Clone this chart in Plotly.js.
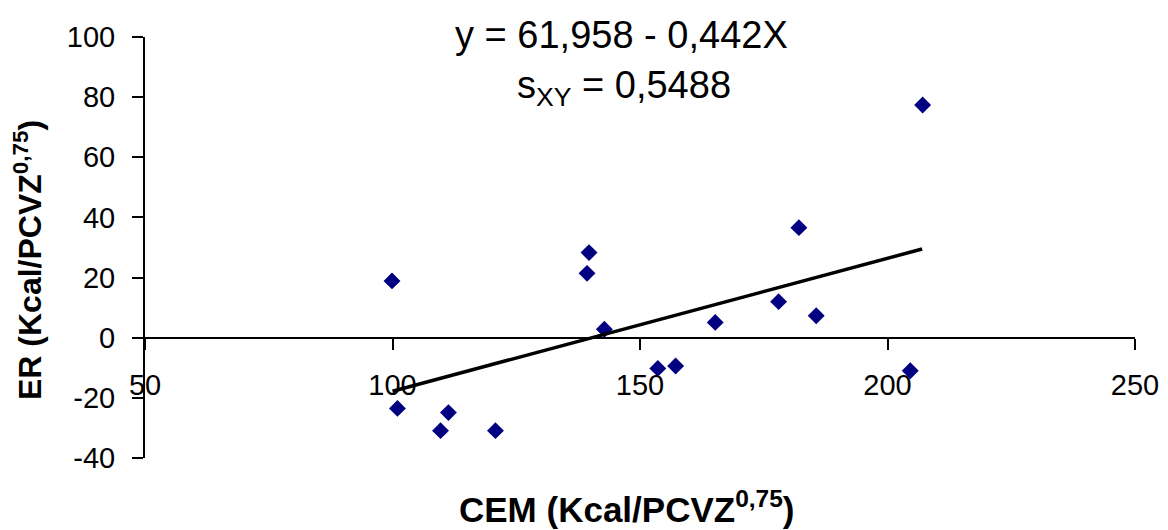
<!DOCTYPE html>
<html>
<head>
<meta charset="utf-8">
<script src="https://cdn.plot.ly/plotly-3.0.1.min.js"></script>
<style>
html,body{margin:0;padding:0;background:#fff;}
#chart{width:1168px;height:530px;}
</style>
</head>
<body>
<div id="chart"></div>
<script>
// CEM (Kcal/PCVZ^0,75) vs ER (Kcal/PCVZ^0,75)
const cem = [99.9, 101.0, 109.7, 111.3, 120.8, 139.3, 139.7, 142.8, 153.6, 157.2, 165.2, 178.0, 182.1, 185.6, 204.6, 207.1];
const er  = [18.9, -23.5, -30.9, -24.9, -30.9, 21.4, 28.3, 2.8, -10.2, -9.4, 5.1, 12.0, 36.6, 7.3, -11.0, 77.4];

// regression line endpoints (as drawn)
const trendX = [100, 207];
const trendY = [-17.8, 29.5];

const xTicks = [50, 100, 150, 200, 250];
const yTicks = [-40, -20, 0, 20, 40, 60, 80, 100];

const font = 'Liberation Sans, Arial, sans-serif';

const data = [
  {
    x: cem, y: er, type: 'scatter', mode: 'markers',
    marker: {symbol: 'diamond', size: 13, color: '#000080'},
    hoverinfo: 'x+y', showlegend: false
  },
  {
    x: trendX, y: trendY, type: 'scatter', mode: 'lines',
    line: {color: '#000000', width: 3.5},
    hoverinfo: 'skip', showlegend: false
  }
];

const px2paperX = p => (p - 145) / 990;
const px2paperY = p => 1 - (p - 37) / 421;

const layout = {
  width: 1168, height: 530,
  margin: {l: 145, r: 33, t: 37, b: 72, pad: 0},
  paper_bgcolor: '#ffffff', plot_bgcolor: 'rgba(0,0,0,0)',
  font: {family: font, color: '#000000', size: 28},
  showlegend: false,
  xaxis: {
    range: [50, 250], tickvals: xTicks, ticktext: xTicks.map(String),
    anchor: 'free', position: 40/140,
    showline: true, linecolor: '#000', linewidth: 2,
    ticks: 'outside', ticklen: 11, tickwidth: 2, tickcolor: '#000',
    ticklabelstandoff: 10,
    showgrid: false, zeroline: false,
    tickfont: {family: font, size: 29, color: '#000'}
  },
  yaxis: {
    range: [-40, 100], tickvals: yTicks, ticktext: yTicks.map(String),
    domain: [0, 1],
    showline: true, linecolor: '#000', linewidth: 2,
    ticks: 'outside', ticklen: 11, tickwidth: 2, tickcolor: '#000',
    ticklabelstandoff: 11,
    showgrid: false, zeroline: false,
    tickfont: {family: font, size: 29, color: '#000'}
  },
  annotations: [
    {
      text: 'y = 61,958 - 0,442X', xref: 'paper', yref: 'paper',
      x: px2paperX(621), y: px2paperY(35), xanchor: 'center', yanchor: 'middle',
      showarrow: false, font: {family: font, size: 38, color: '#000'}
    },
    {
      text: 's<sub>XY</sub> = 0,5488', xref: 'paper', yref: 'paper',
      x: px2paperX(624), y: px2paperY(88), xanchor: 'center', yanchor: 'middle',
      showarrow: false, font: {family: font, size: 38, color: '#000'}
    },
    {
      text: '<b>CEM (Kcal/PCVZ<sup>0,75</sup>)</b>', xref: 'paper', yref: 'paper',
      x: px2paperX(627), y: px2paperY(507), xanchor: 'center', yanchor: 'middle',
      showarrow: false, font: {family: font, size: 35, color: '#000'}
    },
    {
      text: '<b>ER (Kcal/PCVZ<sup>0,75</sup>)</b>', xref: 'paper', yref: 'paper',
      x: px2paperX(28), y: px2paperY(260), xanchor: 'center', yanchor: 'middle',
      textangle: -90,
      showarrow: false, font: {family: font, size: 32, color: '#000'}
    }
  ]
};

Plotly.newPlot('chart', data, layout, {displayModeBar: false, staticPlot: true});
</script>
</body>
</html>
